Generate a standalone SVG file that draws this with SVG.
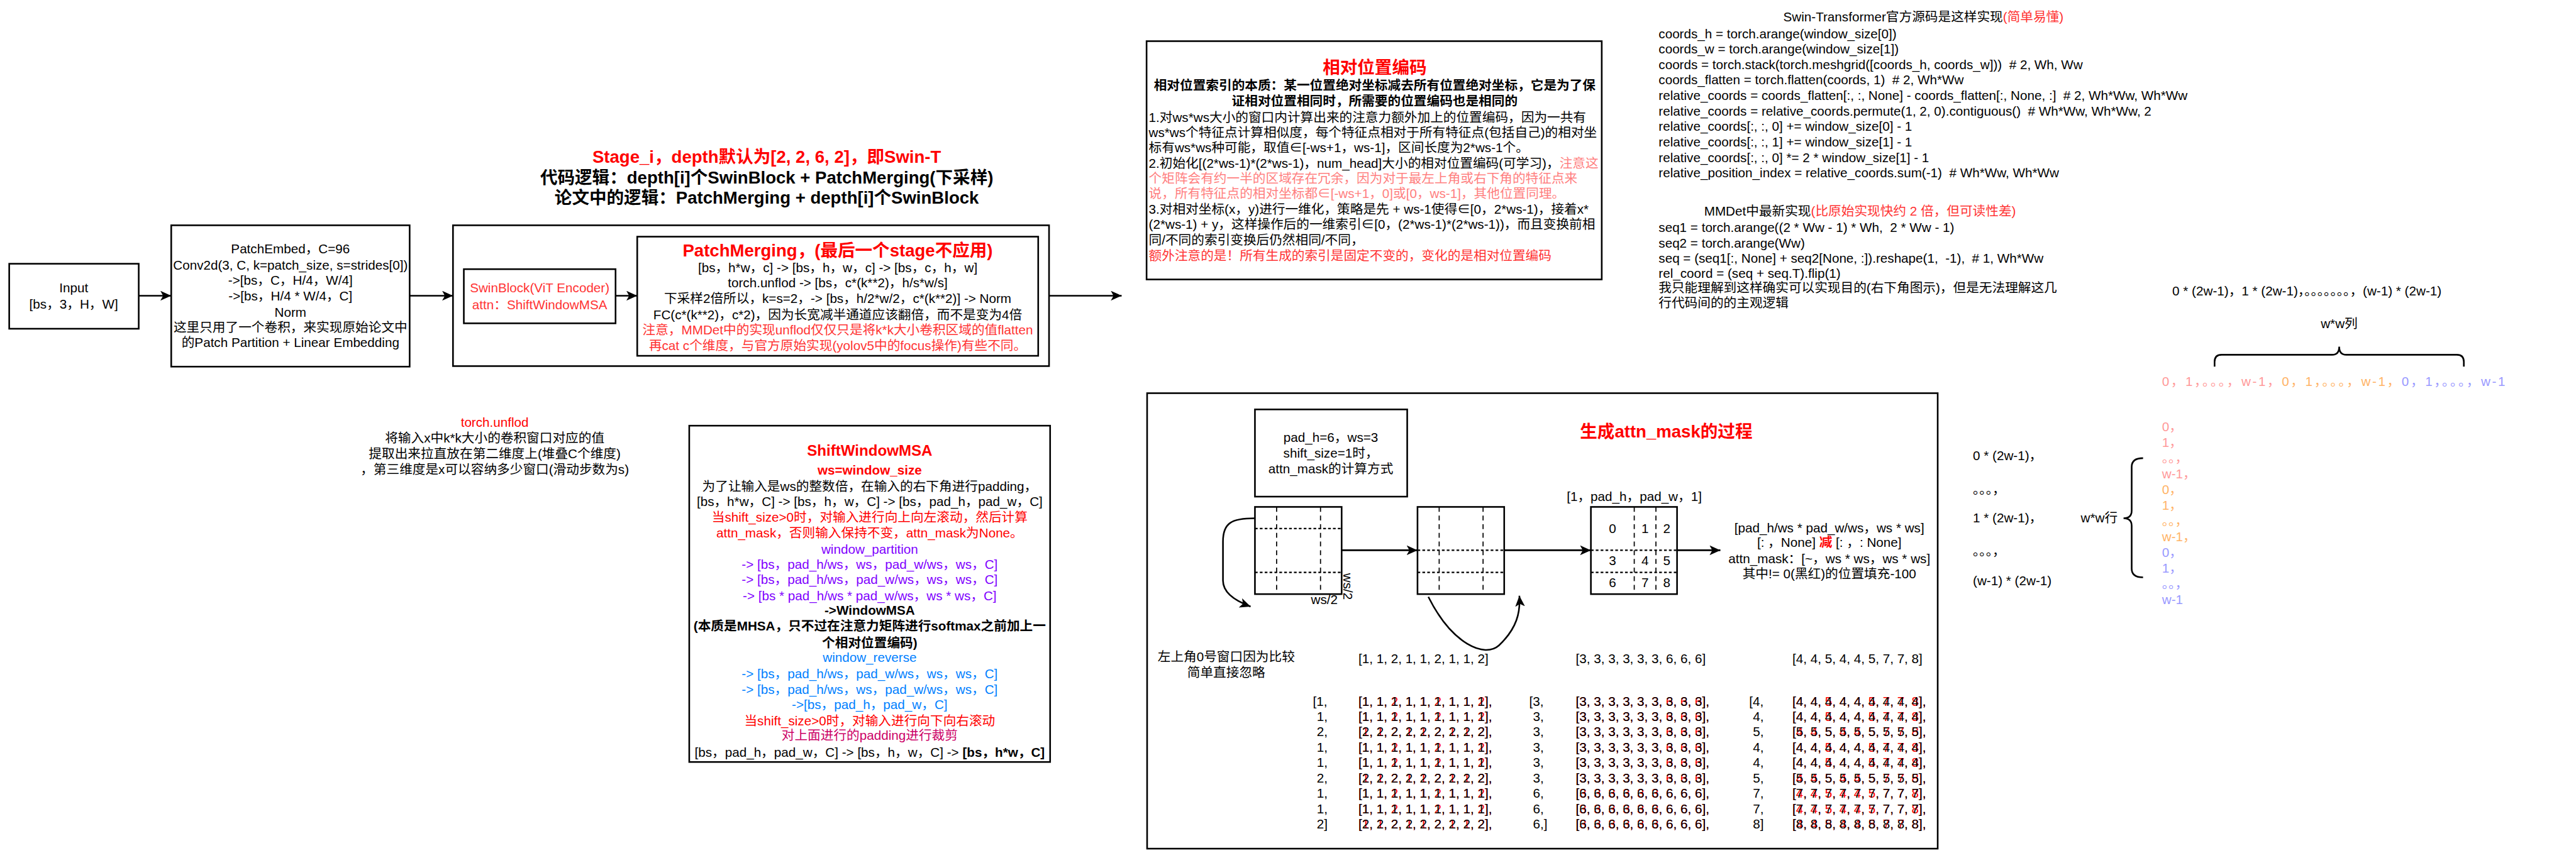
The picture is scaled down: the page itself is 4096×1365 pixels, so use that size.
<svg xmlns="http://www.w3.org/2000/svg" width="4096" height="1365" viewBox="0 0 4096 1365">
<style>
text{font-family:"Liberation Sans","Noto Sans CJK SC",sans-serif;font-size:24px;fill:#000;white-space:pre}
.c{text-anchor:middle}
.e{text-anchor:end}
.b{font-weight:bold}
.h{font-size:32px;font-weight:bold}
.red{fill:#ff0000}
.r2{fill:#ff3333}
.pk{fill:#ff8080}
.pu{fill:#7f00ff}
.bl{fill:#007fff}
.mg{fill:#cc0066}
.s1{fill:#ff9999}
.s2{fill:#ffb366}
.s3{fill:#9999ff}
.box{fill:#fff;stroke:#000;stroke-width:3}
.edge{fill:none;stroke:#000;stroke-width:3}
.dv{stroke:#000;stroke-width:2;stroke-dasharray:9 7}
.dh{stroke:#000;stroke-width:2.5;stroke-dasharray:5 4}
</style>
<defs>
<marker id="arr" markerUnits="userSpaceOnUse" markerWidth="22" markerHeight="20" refX="20" refY="9" orient="auto">
<path d="M0,0 L20,9 L0,18 L5,9 Z" fill="#000"/>
</marker>
</defs>
<rect width="4096" height="1365" fill="#fff"/>
<g transform="scale(0.86159)">

<g id="input">
<rect class="box" x="17" y="487" width="239" height="120"/>
<text class="c" x="136" y="540">Input</text>
<text class="c" x="136" y="570">[bs，3，H，W]</text>
</g>

<g id="patchembed">
<rect class="box" x="316" y="416" width="440" height="261"/>
<text class="c" x="536" y="468">PatchEmbed，C=96</text>
<text class="c" x="536" y="498">Conv2d(3, C, k=patch_size, s=strides[0])</text>
<text class="c" x="536" y="526">-&gt;[bs，C，H/4，W/4]</text>
<text class="c" x="536" y="555">-&gt;[bs，H/4 * W/4，C]</text>
<text class="c" x="536" y="585">Norm</text>
<text class="c" x="536" y="613">这里只用了一个卷积，来实现原始论文中</text>
<text class="c" x="536" y="641">的Patch Partition + Linear Embedding</text>
</g>

<g id="stage-title">
<text class="c h red" x="1415" y="301">Stage_i，depth默认为[2, 2, 6, 2]，即Swin-T</text>
<text class="c h" x="1415" y="339">代码逻辑：depth[i]个SwinBlock + PatchMerging(下采样)</text>
<text class="c h" x="1415" y="376">论文中的逻辑：PatchMerging + depth[i]个SwinBlock</text>
</g>

<g id="stage">
<rect class="box" x="836" y="416" width="1100" height="260"/>
</g>

<g id="swinblock">
<rect class="box" x="856" y="497" width="280" height="100"/>
<text class="c r2" x="996" y="540">SwinBlock(ViT Encoder)</text>
<text class="c r2" x="996" y="571">attn：ShiftWindowMSA</text>
</g>

<g id="patchmerging">
<rect class="box" x="1176" y="437" width="740" height="220"/>
<text class="c h red" x="1546" y="473">PatchMerging，(最后一个stage不应用)</text>
<text class="c" x="1546" y="503">[bs，h*w，c] -&gt; [bs，h，w，c] -&gt; [bs，c，h，w]</text>
<text class="c" x="1546" y="531">torch.unflod -&gt; [bs，c*(k**2)，h/s*w/s]</text>
<text class="c" x="1546" y="560">下采样2倍所以，k=s=2，-&gt; [bs，h/2*w/2，c*(k**2)] -&gt; Norm</text>
<text class="c" x="1546" y="590">FC(c*(k**2)，c*2)，因为长宽减半通道应该翻倍，而不是变为4倍</text>
<text class="c r2" x="1546" y="617">注意，MMDet中的实现unflod仅仅只是将k*k大小卷积区域的值flatten</text>
<text class="c r2" x="1546" y="646">再cat c个维度，与官方原始实现(yolov5中的focus操作)有些不同。</text>
</g>

<g id="unflod-note">
<text class="c red" x="913" y="788">torch.unflod</text>
<text class="c" x="913" y="817">将输入x中k*k大小的卷积窗口对应的值</text>
<text class="c" x="913" y="846">提取出来拉直放在第二维度上(堆叠C个维度)</text>
<text class="c" x="913" y="875">，第三维度是x可以容纳多少窗口(滑动步数为s)</text>
</g>

<g id="shiftwindowmsa">
<rect class="box" x="1272" y="786" width="666" height="621"/>
<text class="c b red" style="font-size:28px" x="1605" y="842">ShiftWindowMSA</text>
<text class="c b red" x="1605" y="876">ws=window_size</text>
<text class="c" x="1605" y="907">为了让输入是ws的整数倍，在输入的右下角进行padding，</text>
<text class="c" x="1605" y="934">[bs，h*w，C] -&gt; [bs，h，w，C] -&gt; [bs，pad_h，pad_w，C]</text>
<text class="c red" x="1605" y="963">当shift_size&gt;0时，对输入进行向上向左滚动，然后计算</text>
<text class="c red" x="1605" y="992">attn_mask，否则输入保持不变，attn_mask为None。</text>
<text class="c pu" x="1605" y="1022">window_partition</text>
<text class="c pu" x="1605" y="1050">-&gt; [bs，pad_h/ws，ws，pad_w/ws，ws，C]</text>
<text class="c pu" x="1605" y="1078">-&gt; [bs，pad_h/ws，pad_w/ws，ws，ws，C]</text>
<text class="c pu" x="1605" y="1108">-&gt; [bs * pad_h/ws * pad_w/ws，ws * ws，C]</text>
<text class="c b" x="1605" y="1135">-&gt;WindowMSA</text>
<text class="c b" x="1605" y="1164">(本质是MHSA，只不过在注意力矩阵进行softmax之前加上一</text>
<text class="c b" x="1605" y="1195">个相对位置编码)</text>
<text class="c bl" x="1605" y="1222">window_reverse</text>
<text class="c bl" x="1605" y="1252">-&gt; [bs，pad_h/ws，pad_w/ws，ws，ws，C]</text>
<text class="c bl" x="1605" y="1281">-&gt; [bs，pad_h/ws，ws，pad_w/ws，ws，C]</text>
<text class="c bl" x="1605" y="1309">-&gt;[bs，pad_h，pad_w，C]</text>
<text class="c red" x="1605" y="1339">当shift_size&gt;0时，对输入进行向下向右滚动</text>
<text class="c mg" x="1605" y="1366">对上面进行的padding进行裁剪</text>
<text class="c" x="1605" y="1397">[bs，pad_h，pad_w，C] -&gt; [bs，h，w，C] -&gt; <tspan class="b">[bs，h*w，C]</tspan></text>
</g>

<g id="relpos">
<rect class="box" x="2116" y="76" width="840" height="440"/>
<text class="c h red" x="2537" y="136">相对位置编码</text>
<text class="c b" x="2537" y="166">相对位置索引的本质：某一位置绝对坐标减去所有位置绝对坐标，它是为了保</text>
<text class="c b" x="2537" y="195">证相对位置相同时，所需要的位置编码也是相同的</text>
<text x="2120" y="225">1.对ws*ws大小的窗口内计算出来的注意力额外加上的位置编码，因为一共有</text>
<text x="2120" y="253">ws*ws个特征点计算相似度，每个特征点相对于所有特征点(包括自己)的相对坐</text>
<text x="2120" y="281">标有ws*ws种可能，取值∈[-ws+1，ws-1]，区间长度为2*ws-1个。</text>
<text x="2120" y="310">2.初始化[(2*ws-1)*(2*ws-1)，num_head]大小的相对位置编码(可学习)，<tspan class="pk">注意这</tspan></text>
<text class="pk" x="2120" y="338">个矩阵会有约一半的区域存在冗余，因为对于最左上角或右下角的特征点来</text>
<text class="pk" x="2120" y="366">说，所有特征点的相对坐标都∈[-ws+1，0]或[0，ws-1]，其他位置同理。</text>
<text x="2120" y="395">3.对相对坐标(x，y)进行一维化，策略是先 + ws-1使得∈[0，2*ws-1)，接着x*</text>
<text x="2120" y="423">(2*ws-1) + y，这样操作后的一维索引∈[0，(2*ws-1)*(2*ws-1))，而且变换前相</text>
<text x="2120" y="451">同/不同的索引变换后仍然相同/不同，</text>
<text class="r2" x="2120" y="481">额外注意的是！所有生成的索引是固定不变的，变化的是相对位置编码</text>
</g>

<g id="swin-code">
<text x="3291" y="40">Swin-Transformer官方源码是这样实现<tspan class="r2">(简单易懂)</tspan></text>
<text x="3061" y="71">coords_h = torch.arange(window_size[0])</text>
<text x="3061" y="99">coords_w = torch.arange(window_size[1])</text>
<text x="3061" y="128">coords = torch.stack(torch.meshgrid([coords_h, coords_w]))  # 2, Wh, Ww</text>
<text x="3061" y="156">coords_flatten = torch.flatten(coords, 1)  # 2, Wh*Ww</text>
<text x="3061" y="185">relative_coords = coords_flatten[:, :, None] - coords_flatten[:, None, :]  # 2, Wh*Ww, Wh*Ww</text>
<text x="3061" y="214">relative_coords = relative_coords.permute(1, 2, 0).contiguous()  # Wh*Ww, Wh*Ww, 2</text>
<text x="3061" y="242">relative_coords[:, :, 0] += window_size[0] - 1</text>
<text x="3061" y="270">relative_coords[:, :, 1] += window_size[1] - 1</text>
<text x="3061" y="299">relative_coords[:, :, 0] *= 2 * window_size[1] - 1</text>
<text x="3061" y="327">relative_position_index = relative_coords.sum(-1)  # Wh*Ww, Wh*Ww</text>
</g>

<g id="mmdet-code">
<text x="3145" y="398">MMDet中最新实现<tspan class="r2">(比原始实现快约 2 倍，但可读性差)</tspan></text>
<text x="3061" y="428">seq1 = torch.arange((2 * Ww - 1) * Wh,  2 * Ww - 1)</text>
<text x="3061" y="457">seq2 = torch.arange(Ww)</text>
<text x="3061" y="485">seq = (seq1[:, None] + seq2[None, :]).reshape(1,  -1),  # 1, Wh*Ww</text>
<text x="3061" y="513">rel_coord = (seq + seq.T).flip(1)</text>
<text x="3061" y="540">我只能理解到这样确实可以实现目的(右下角图示)，但是无法理解这几</text>
<text x="3061" y="568">行代码间的的主观逻辑</text>
</g>

<g id="cols-illustration">
<text x="4009" y="546">0 * (2w-1)，1 * (2w-1)，。。。。。。。，(w-1) * (2w-1)</text>
<text class="c" x="4317" y="606">w*w列</text>
<path class="edge" d="M4087 677 L4087 668 Q4087 655 4100 655 L4304 655 Q4317 655 4317 640 Q4317 655 4330 655 L4534 655 Q4547 655 4547 668 L4547 677"/>
<text x="3990" y="713" style="letter-spacing:3px"><tspan class="s1">0，1，。。。，w-1，</tspan><tspan class="s2">0，1，。。。，w-1，</tspan><tspan class="s3">0，1，。。。，w-1</tspan></text>
</g>

<g id="attnmask">
<rect class="box" x="2117" y="726" width="1459" height="841"/>
<text class="c h red" x="3075" y="808">生成attn_mask的过程</text>
</g>

<g id="padbox">
<rect class="box" x="2316" y="756" width="281" height="161"/>
<text class="c" x="2456" y="816">pad_h=6，ws=3</text>
<text class="c" x="2456" y="845">shift_size=1时，</text>
<text class="c" x="2456" y="874">attn_mask的计算方式</text>
</g>

<g id="grid1">
<rect class="box" x="2316" y="936" width="160" height="161"/>
<line class="dv" x1="2356" y1="936" x2="2356" y2="1097"/>
<line class="dv" x1="2437" y1="936" x2="2437" y2="1097"/>
<line class="dh" x1="2316" y1="976" x2="2476" y2="976"/>
<line class="dh" x1="2316" y1="1057" x2="2476" y2="1057"/>
<text class="c" x="2444" y="1115">ws/2</text>
<text class="c" transform="translate(2487 1083) rotate(90)" x="0" y="8">ws/2</text>
</g>

<g id="grid2">
<rect class="box" x="2616" y="936" width="160" height="161"/>
<line class="dv" x1="2656" y1="936" x2="2656" y2="1097"/>
<line class="dv" x1="2737" y1="936" x2="2737" y2="1097"/>
<line class="dh" x1="2616" y1="1016" x2="2776" y2="1016"/>
<line class="dh" x1="2616" y1="1057" x2="2776" y2="1057"/>
</g>

<g id="grid3">
<text class="c" x="3016" y="925">[1，pad_h，pad_w，1]</text>
<rect class="box" x="2936" y="936" width="159" height="161"/>
<line class="dv" x1="3016" y1="936" x2="3016" y2="1097"/>
<line class="dv" x1="3056" y1="936" x2="3056" y2="1097"/>
<line class="dh" x1="2936" y1="1016" x2="3095" y2="1016"/>
<line class="dh" x1="2936" y1="1057" x2="3095" y2="1057"/>
<text class="c" x="2976" y="984">0</text><text class="c" x="3036" y="984">1</text><text class="c" x="3076" y="984">2</text>
<text class="c" x="2976" y="1043">3</text><text class="c" x="3036" y="1043">4</text><text class="c" x="3076" y="1043">5</text>
<text class="c" x="2976" y="1084">6</text><text class="c" x="3036" y="1084">7</text><text class="c" x="3076" y="1084">8</text>
</g>

<g id="mask-formula">
<text class="c" x="3376" y="983">[pad_h/ws * pad_w/ws，ws * ws]</text>
<text class="c" x="3376" y="1010">[: ，None] <tspan class="b red">减</tspan> [: ，: None]</text>
<text class="c" x="3376" y="1040">attn_mask：[~，ws * ws，ws * ws]</text>
<text class="c" x="3376" y="1068">其中!= 0(黑红)的位置填充-100</text>
</g>

<g id="rows-illustration">
<text x="3641" y="850">0 * (2w-1)，</text>
<text x="3641" y="912">。。。，</text>
<text x="3641" y="965">1 * (2w-1)，</text>
<text x="3641" y="1026">。。。，</text>
<text x="3641" y="1080">(w-1) * (2w-1)</text>
<text class="e" x="3908" y="965">w*w行</text>
<path class="edge" d="M3955 846 Q3934 846 3934 862 L3934 943 Q3934 957 3919 957 Q3934 957 3934 971 L3934 1050 Q3934 1066 3955 1066"/>
<text class="s1" x="3990" y="796">0，</text>
<text class="s1" x="3990" y="825">1，</text>
<text class="s1" x="3990" y="854">。。，</text>
<text class="s1" x="3990" y="883">w-1，</text>
<text class="s2" x="3990" y="912">0，</text>
<text class="s2" x="3990" y="941">1，</text>
<text class="s2" x="3990" y="970">。。，</text>
<text class="s2" x="3990" y="999">w-1，</text>
<text class="s3" x="3990" y="1028">0，</text>
<text class="s3" x="3990" y="1057">1，</text>
<text class="s3" x="3990" y="1086">。。，</text>
<text class="s3" x="3990" y="1115">w-1</text>
</g>

<g id="matrices">
<text class="c" x="2263" y="1221">左上角0号窗口因为比较</text>
<text class="c" x="2263" y="1250">简单直接忽略</text>
<text x="2507" y="1225">[1, 1, 2, 1, 1, 2, 1, 1, 2]</text>
<text x="2908" y="1225">[3, 3, 3, 3, 3, 3, 6, 6, 6]</text>
<text x="3308" y="1225">[4, 4, 5, 4, 4, 5, 7, 7, 8]</text>

<text x="2423" y="1303">[1,</text><text x="2430" y="1331">1,</text><text x="2430" y="1359">2,</text><text x="2430" y="1388">1,</text><text x="2430" y="1416">1,</text><text x="2430" y="1445">2,</text><text x="2430" y="1473">1,</text><text x="2430" y="1502">1,</text><text x="2430" y="1530">2]</text>
<text x="2822" y="1303">[3,</text><text x="2829" y="1331">3,</text><text x="2829" y="1359">3,</text><text x="2829" y="1388">3,</text><text x="2829" y="1416">3,</text><text x="2829" y="1445">3,</text><text x="2829" y="1473">6,</text><text x="2829" y="1502">6,</text><text x="2829" y="1530">6,]</text>
<text x="3228" y="1303">[4,</text><text x="3235" y="1331">4,</text><text x="3235" y="1359">5,</text><text x="3235" y="1388">4,</text><text x="3235" y="1416">4,</text><text x="3235" y="1445">5,</text><text x="3235" y="1473">7,</text><text x="3235" y="1502">7,</text><text x="3235" y="1530">8]</text>

<g class="redlayer">
<text class="red" x="2507" y="1303">[1, 1, 2, 1, 1, 2, 1, 1, 2],</text>
<text class="red" x="2507" y="1331">[1, 1, 2, 1, 1, 2, 1, 1, 2],</text>
<text class="red" x="2507" y="1359">[1, 1, 2, 1, 1, 2, 1, 1, 2],</text>
<text class="red" x="2507" y="1388">[1, 1, 2, 1, 1, 2, 1, 1, 2],</text>
<text class="red" x="2507" y="1416">[1, 1, 2, 1, 1, 2, 1, 1, 2],</text>
<text class="red" x="2507" y="1445">[1, 1, 2, 1, 1, 2, 1, 1, 2],</text>
<text class="red" x="2507" y="1473">[1, 1, 2, 1, 1, 2, 1, 1, 2],</text>
<text class="red" x="2507" y="1502">[1, 1, 2, 1, 1, 2, 1, 1, 2],</text>
<text class="red" x="2507" y="1530">[1, 1, 2, 1, 1, 2, 1, 1, 2],</text>
<text class="red" x="2908" y="1303">[3, 3, 3, 3, 3, 3, 6, 6, 6],</text>
<text class="red" x="2908" y="1331">[3, 3, 3, 3, 3, 3, 6, 6, 6],</text>
<text class="red" x="2908" y="1359">[3, 3, 3, 3, 3, 3, 6, 6, 6],</text>
<text class="red" x="2908" y="1388">[3, 3, 3, 3, 3, 3, 6, 6, 6],</text>
<text class="red" x="2908" y="1416">[3, 3, 3, 3, 3, 3, 6, 6, 6],</text>
<text class="red" x="2908" y="1445">[3, 3, 3, 3, 3, 3, 6, 6, 6],</text>
<text class="red" x="2908" y="1473">[3, 3, 3, 3, 3, 3, 6, 6, 6],</text>
<text class="red" x="2908" y="1502">[3, 3, 3, 3, 3, 3, 6, 6, 6],</text>
<text class="red" x="2908" y="1530">[3, 3, 3, 3, 3, 3, 6, 6, 6],</text>
<text class="red" x="3308" y="1303">[4, 4, 5, 4, 4, 5, 7, 7, 8],</text>
<text class="red" x="3308" y="1331">[4, 4, 5, 4, 4, 5, 7, 7, 8],</text>
<text class="red" x="3308" y="1359">[4, 4, 5, 4, 4, 5, 7, 7, 8],</text>
<text class="red" x="3308" y="1388">[4, 4, 5, 4, 4, 5, 7, 7, 8],</text>
<text class="red" x="3308" y="1416">[4, 4, 5, 4, 4, 5, 7, 7, 8],</text>
<text class="red" x="3308" y="1445">[4, 4, 5, 4, 4, 5, 7, 7, 8],</text>
<text class="red" x="3308" y="1473">[4, 4, 5, 4, 4, 5, 7, 7, 8],</text>
<text class="red" x="3308" y="1502">[4, 4, 5, 4, 4, 5, 7, 7, 8],</text>
<text class="red" x="3308" y="1530">[4, 4, 5, 4, 4, 5, 7, 7, 8],</text>
</g>
<g class="blacklayer">
<text x="2507" y="1303">[1, 1, 1, 1, 1, 1, 1, 1, 1],</text>
<text x="2507" y="1331">[1, 1, 1, 1, 1, 1, 1, 1, 1],</text>
<text x="2507" y="1359">[2, 2, 2, 2, 2, 2, 2, 2, 2],</text>
<text x="2507" y="1388">[1, 1, 1, 1, 1, 1, 1, 1, 1],</text>
<text x="2507" y="1416">[1, 1, 1, 1, 1, 1, 1, 1, 1],</text>
<text x="2507" y="1445">[2, 2, 2, 2, 2, 2, 2, 2, 2],</text>
<text x="2507" y="1473">[1, 1, 1, 1, 1, 1, 1, 1, 1],</text>
<text x="2507" y="1502">[1, 1, 1, 1, 1, 1, 1, 1, 1],</text>
<text x="2507" y="1530">[2, 2, 2, 2, 2, 2, 2, 2, 2],</text>
<text x="2908" y="1303">[3, 3, 3, 3, 3, 3, 3, 3, 3],</text>
<text x="2908" y="1331">[3, 3, 3, 3, 3, 3, 3, 3, 3],</text>
<text x="2908" y="1359">[3, 3, 3, 3, 3, 3, 3, 3, 3],</text>
<text x="2908" y="1388">[3, 3, 3, 3, 3, 3, 3, 3, 3],</text>
<text x="2908" y="1416">[3, 3, 3, 3, 3, 3, 3, 3, 3],</text>
<text x="2908" y="1445">[3, 3, 3, 3, 3, 3, 3, 3, 3],</text>
<text x="2908" y="1473">[6, 6, 6, 6, 6, 6, 6, 6, 6],</text>
<text x="2908" y="1502">[6, 6, 6, 6, 6, 6, 6, 6, 6],</text>
<text x="2908" y="1530">[6, 6, 6, 6, 6, 6, 6, 6, 6],</text>
<text x="3308" y="1303">[4, 4, 4, 4, 4, 4, 4, 4, 4],</text>
<text x="3308" y="1331">[4, 4, 4, 4, 4, 4, 4, 4, 4],</text>
<text x="3308" y="1359">[5, 5, 5, 5, 5, 5, 5, 5, 5],</text>
<text x="3308" y="1388">[4, 4, 4, 4, 4, 4, 4, 4, 4],</text>
<text x="3308" y="1416">[4, 4, 4, 4, 4, 4, 4, 4, 4],</text>
<text x="3308" y="1445">[5, 5, 5, 5, 5, 5, 5, 5, 5],</text>
<text x="3308" y="1473">[7, 7, 7, 7, 7, 7, 7, 7, 7],</text>
<text x="3308" y="1502">[7, 7, 7, 7, 7, 7, 7, 7, 7],</text>
<text x="3308" y="1530">[8, 8, 8, 8, 8, 8, 8, 8, 8],</text>
</g>
</g>

<g id="connectors">
<path class="edge" marker-end="url(#arr)" d="M256 546 L316 546"/>
<path class="edge" marker-end="url(#arr)" d="M756 546 L836 546"/>
<path class="edge" marker-end="url(#arr)" d="M1136 546 L1176 546"/>
<path class="edge" marker-end="url(#arr)" d="M1936 546 L2070 546"/>
<path class="edge" marker-end="url(#arr)" d="M2476 1016 L2616 1016"/>
<path class="edge" marker-end="url(#arr)" d="M2776 1016 L2936 1016"/>
<path class="edge" marker-end="url(#arr)" d="M3095 1016 L3175 1016"/>
<path class="edge" stroke-width="2.5" marker-end="url(#arr)" d="M2316 957 C2272 957 2257 966 2257 1000 L2257 1072 C2257 1092 2275 1108 2308 1120"/>
<path class="edge" stroke-width="2.5" marker-end="url(#arr)" d="M2636 1102 C2680 1190 2740 1215 2766 1192 C2800 1160 2806 1130 2804 1100"/>
</g>

</g>
</svg>
